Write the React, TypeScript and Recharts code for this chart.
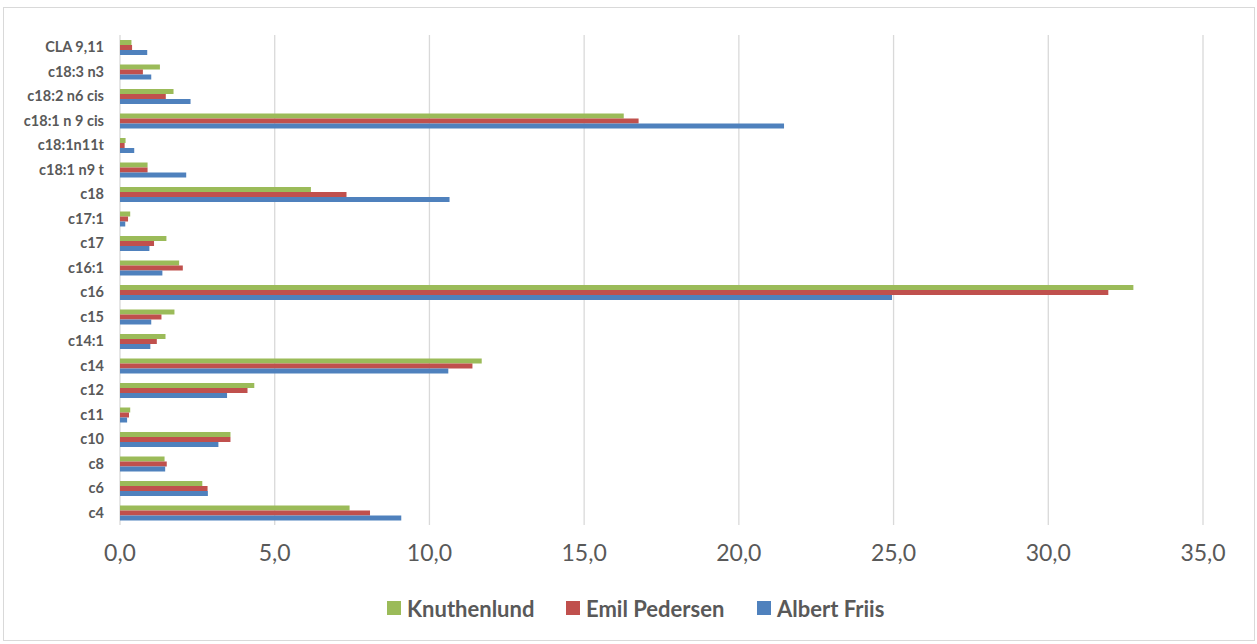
import React from 'react';
import { BarChart, Bar, XAxis, YAxis, CartesianGrid, Legend } from 'recharts';

// Fatty acid composition per farm (g/100 g fat)
const categories = [
  'CLA 9,11',
  'c18:3 n3',
  'c18:2 n6 cis',
  'c18:1 n 9 cis',
  'c18:1n11t',
  'c18:1 n9 t',
  'c18',
  'c17:1',
  'c17',
  'c16:1',
  'c16',
  'c15',
  'c14:1',
  'c14',
  'c12',
  'c11',
  'c10',
  'c8',
  'c6',
  'c4',
];
const knuthenlund = [0.37, 1.29, 1.73, 16.28, 0.18, 0.89, 6.17, 0.33, 1.5, 1.91, 32.75, 1.76, 1.47, 11.69, 4.34, 0.33, 3.57, 1.44, 2.66, 7.42];
const emilPedersen = [0.39, 0.74, 1.48, 16.76, 0.15, 0.89, 7.32, 0.26, 1.1, 2.03, 31.94, 1.34, 1.19, 11.39, 4.12, 0.29, 3.57, 1.51, 2.83, 8.08];
const albertFriis = [0.88, 1.01, 2.28, 21.46, 0.46, 2.14, 10.65, 0.17, 0.95, 1.37, 24.95, 1.01, 0.98, 10.61, 3.46, 0.23, 3.18, 1.46, 2.84, 9.09];
const xTicks = [0, 5, 10, 15, 20, 25, 30, 35];

const seriesNames = ['Knuthenlund', 'Emil Pedersen', 'Albert Friis'];
const seriesColors = ['#9BBB59', '#C0504D', '#4F81BD'];
const seriesKeys = ['knuthenlund', 'emilPedersen', 'albertFriis'];

const data = categories.map((name, i) => ({
  name,
  knuthenlund: knuthenlund[i],
  emilPedersen: emilPedersen[i],
  albertFriis: albertFriis[i],
}));

const FONT = 'Lato, "Open Sans", sans-serif';
const TEXT = '#595959';
const legendLeft = [387, 566, 757];

const formatTick = (v: number) => v.toFixed(1).replace('.', ',');

const renderLegend = () => (
  <div style={{ position: 'relative', width: 1257, height: 30, fontFamily: FONT }}>
    {seriesNames.map((name, i) => (
      <div
        key={name}
        style={{
          position: 'absolute',
          left: legendLeft[i],
          top: 8,
          display: 'flex',
          alignItems: 'center',
          height: 14,
        }}
      >
        <span style={{ display: 'inline-block', width: 14, height: 14, background: seriesColors[i], marginRight: 6 }} />
        <span style={{ fontSize: 22, fontWeight: 700, color: TEXT, whiteSpace: 'nowrap' }}>{name}</span>
      </div>
    ))}
  </div>
);

export default function App() {
  return (
    <div style={{ position: 'absolute', left: 0, top: 0, width: 1257, height: 644, background: '#fff', fontFamily: FONT }}>
      <div
        style={{
          position: 'absolute',
          left: 3,
          top: 7,
          width: 1252,
          height: 634,
          boxSizing: 'border-box',
          border: '1px solid #D9D9D9',
        }}
      />
      <div style={{ position: 'absolute', left: 0, top: 0 }}>
        <BarChart
          width={1257}
          height={644}
          data={data}
          layout="vertical"
          margin={{ top: 35, right: 54, left: 0, bottom: 49 }}
          barGap={0}
          barSize={5}
        >
          <CartesianGrid horizontal={false} vertical stroke="#D9D9D9" strokeWidth={1.3} />
          <XAxis
            type="number"
            domain={[0, 35]}
            ticks={xTicks}
            tickFormatter={formatTick}
            axisLine={false}
            tickLine={false}
            tickSize={0}
            tickMargin={20}
            height={40}
            interval={0}
            tick={{ fill: TEXT, fontSize: 23, fontFamily: FONT }}
          />
          <YAxis
            type="category"
            dataKey="name"
            width={120}
            axisLine={false}
            tickLine={false}
            tickSize={0}
            tickMargin={16}
            interval={0}
            tick={{ fill: TEXT, fontSize: 14.5, fontWeight: 700, fontFamily: FONT }}
          />
          <Legend
            verticalAlign="bottom"
            content={renderLegend}
            wrapperStyle={{ left: 0, bottom: 21, width: 1257, height: 30 }}
          />
          {seriesKeys.map((k, i) => (
            <Bar key={k} dataKey={k} name={seriesNames[i]} fill={seriesColors[i]} isAnimationActive={false} />
          ))}
        </BarChart>
      </div>
    </div>
  );
}
